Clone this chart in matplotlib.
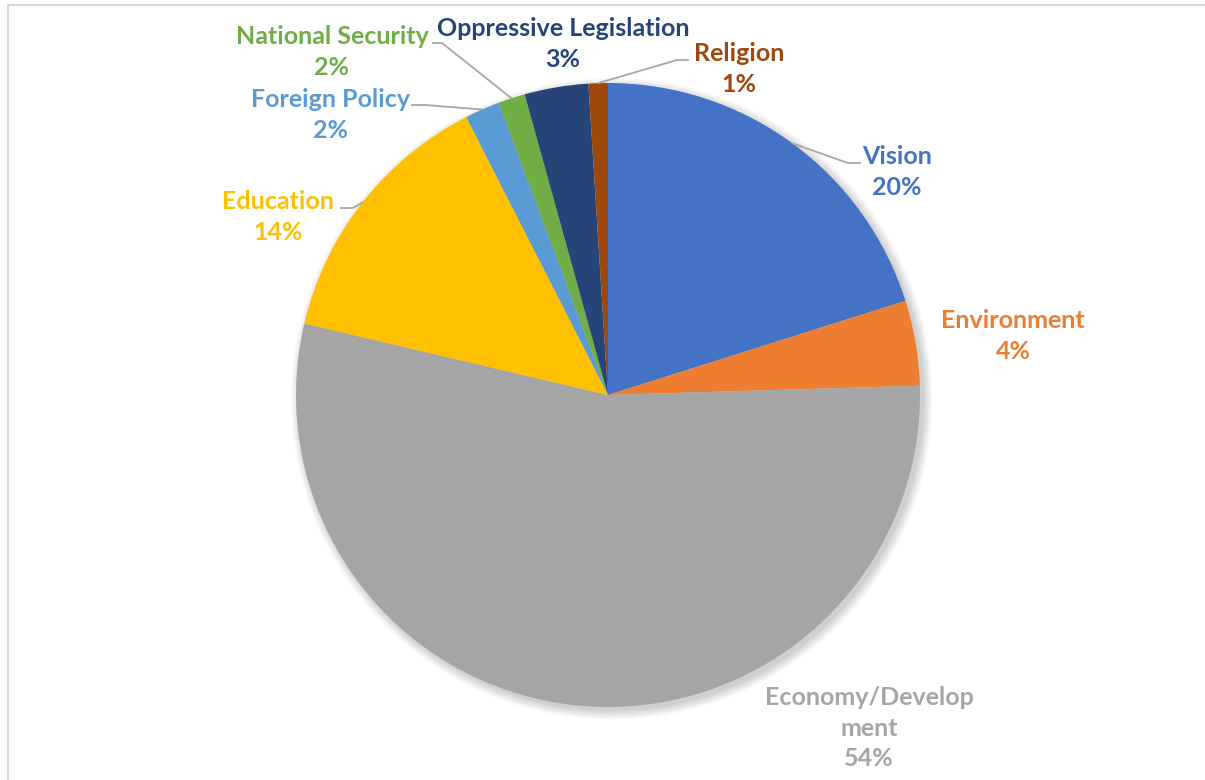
import numpy as np
import matplotlib.pyplot as plt
from matplotlib.patches import Rectangle, Circle

# --- data ---
labels = ['Vision', 'Environment', 'Economy/Develop\nment', 'Education',
          'Foreign Policy', 'National Security', 'Oppressive Legislation', 'Religion']
values = [20.1, 4.4, 54.1, 13.8, 1.8, 1.4, 3.3, 1.0]
pct_text = ['20%', '4%', '54%', '14%', '2%', '2%', '3%', '1%']
colors = ['#4472C4', '#ED7D31', '#A5A5A5', '#FFC000',
          '#5B9BD5', '#70AD47', '#264478', '#9E480E']

# label centres in pixels, and leader-line elbow (None = no leader)
W, H = 1205, 780
cx, cy, R = 608, 395, 312
label_px = [(897, 172), (1013, 336), (869, 728), (278, 217),
            (331, 115), (332, 52), (563, 44), (739, 69)]
elbow_px = [[(860, 163), (848, 163)], None, None, [(341, 208), (353, 208)],
            [(412, 105), (425, 105)], [(433, 43), (442, 43)], None,
            [(688, 60), (677, 60)]]


def to_data(p):
    return ((p[0] - cx) / R, (cy - p[1]) / R)


fig = plt.figure(figsize=(W / 100, H / 100), dpi=100)
ax = fig.add_axes([0, 0, 1, 1])

# frame
fig.patches.append(Rectangle((8 / W, -0.1), 1.2, 1 - 5 / H + 0.1, transform=fig.transFigure,
                             fill=False, edgecolor='#D9D9D9', linewidth=1.5))

# soft shadow
for i in range(8):
    ax.add_patch(Circle((0.012, -0.012), 1.0 + 0.004 * i, color='black',
                        alpha=0.025, linewidth=0, zorder=0))

wedges, _ = ax.pie(values, colors=colors, startangle=90, counterclock=False,
                   radius=1.0, center=(0, 0), frame=True,
                   wedgeprops=dict(linewidth=0))
ax.set_xlim(-cx / R, (W - cx) / R)
ax.set_ylim((cy - H) / R, cy / R)
ax.set_aspect('equal')
ax.axis('off')

for w, lab, pct, col, lp, el in zip(wedges, labels, pct_text, colors, label_px, elbow_px):
    ax.text(*to_data(lp), lab + '\n' + pct, ha='center', va='center', color=col,
            fontsize=18, fontweight='bold', family='Lato', linespacing=1.4)
    if el is not None:
        mid = np.deg2rad((w.theta1 + w.theta2) / 2)
        edge = (np.cos(mid), np.sin(mid))
        pts = [to_data(p) for p in el] + [edge]
        ax.plot([p[0] for p in pts], [p[1] for p in pts], color='#A6A6A6',
                linewidth=1.3, zorder=5)

fig.savefig('out.png', dpi=100)
